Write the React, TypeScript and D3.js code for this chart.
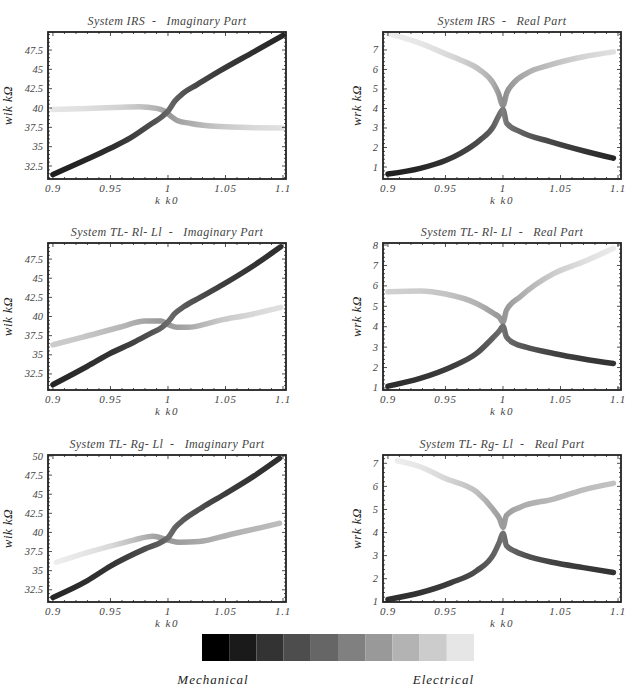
import React from 'react';
import * as d3 from 'd3';

// [k/k0, w, gray level]
const irsImagMech = [[0.9,31.4,0.12],[0.93,33.4,0.15],[0.95,34.8,0.18],[0.967,36.1,0.24],[0.985,37.9,0.3],[0.995,38.9,0.36],[1.0,39.6,0.4],[1.006,40.9,0.37],[1.013,41.9,0.33],[1.025,43.0,0.28],[1.045,44.8,0.23],[1.075,47.3,0.18],[1.1,49.4,0.15]];
const irsImagElec = [[0.9,39.8,0.9],[0.93,39.95,0.87],[0.96,40.1,0.82],[0.975,40.15,0.77],[0.99,39.95,0.7],[0.997,39.6,0.64],[1.002,39.0,0.6],[1.008,38.4,0.63],[1.02,38.0,0.68],[1.045,37.6,0.78],[1.075,37.45,0.85],[1.1,37.4,0.88]];
const irsRealMech = [[0.9,0.64,0.12],[0.928,0.93,0.15],[0.95,1.33,0.2],[0.963,1.7,0.24],[0.98,2.38,0.3],[0.9916,3.07,0.38],[0.996,3.58,0.44],[1.0,3.95,0.5],[1.0032,3.24,0.45],[1.0148,2.81,0.38],[1.041,2.3,0.28],[1.073,1.78,0.2],[1.096,1.45,0.15]];
const irsRealElec = [[0.9,7.85,0.93],[0.93,7.3,0.9],[0.95,6.8,0.86],[0.963,6.49,0.82],[0.98,5.97,0.75],[0.9916,5.29,0.67],[0.996,4.78,0.6],[1.0,4.15,0.55],[1.0032,4.78,0.58],[1.009,5.29,0.62],[1.0206,5.8,0.68],[1.041,6.23,0.75],[1.07,6.65,0.83],[1.096,6.9,0.88]];

const tlrlImagMech = [[0.9,31.1,0.15],[0.93,33.5,0.18],[0.95,35.2,0.2],[0.97,36.6,0.26],[0.985,37.8,0.32],[0.995,38.6,0.38],[1.0,39.3,0.42],[1.006,40.4,0.39],[1.014,41.3,0.35],[1.028,42.5,0.3],[1.048,44.2,0.24],[1.075,46.7,0.2],[1.098,49.1,0.18]];
const tlrlImagElec = [[0.9,36.3,0.8],[0.926,37.3,0.78],[0.958,38.6,0.72],[0.98,39.4,0.65],[0.994,39.4,0.6],[1.001,38.9,0.6],[1.008,38.6,0.62],[1.018,38.6,0.66],[1.03,38.9,0.72],[1.045,39.5,0.78],[1.07,40.2,0.84],[1.098,41.2,0.88]];
const tlrlRealMech = [[0.9,1.09,0.18],[0.928,1.47,0.2],[0.955,2.03,0.24],[0.977,2.69,0.3],[0.992,3.5,0.38],[0.997,3.8,0.42],[1.0,4.02,0.45],[1.003,3.5,0.42],[1.01,3.18,0.38],[1.02,3.0,0.33],[1.044,2.69,0.26],[1.07,2.42,0.22],[1.096,2.2,0.2]];
const tlrlRealElec = [[0.9,5.71,0.82],[0.928,5.75,0.8],[0.95,5.6,0.77],[0.977,5.14,0.7],[0.992,4.65,0.62],[0.997,4.45,0.6],[1.0,4.22,0.58],[1.003,4.8,0.6],[1.015,5.47,0.68],[1.044,6.6,0.8],[1.07,7.18,0.87],[1.096,7.84,0.92]];

const tlrgImagMech = [[0.9,31.5,0.15],[0.93,33.7,0.18],[0.95,35.6,0.2],[0.98,37.85,0.3],[0.995,38.8,0.38],[1.0,39.3,0.42],[1.006,40.6,0.39],[1.014,41.7,0.35],[1.028,43.1,0.3],[1.048,44.9,0.24],[1.075,47.4,0.2],[1.097,49.7,0.18]];
const tlrgImagElec = [[0.903,36.1,0.93],[0.926,37.2,0.9],[0.95,38.2,0.85],[0.97,39.0,0.75],[0.987,39.5,0.65],[1.0,39.0,0.6],[1.01,38.7,0.62],[1.027,38.8,0.66],[1.056,39.8,0.7],[1.08,40.6,0.72],[1.097,41.2,0.74]];
const tlrgRealMech = [[0.9,1.1,0.18],[0.928,1.39,0.2],[0.955,1.83,0.24],[0.977,2.34,0.3],[0.992,3.07,0.38],[0.997,3.6,0.42],[1.0,3.97,0.45],[1.003,3.43,0.42],[1.01,3.2,0.38],[1.02,3.0,0.32],[1.044,2.7,0.26],[1.07,2.48,0.22],[1.096,2.27,0.2]];
const tlrgRealElec = [[0.908,7.11,0.93],[0.928,6.85,0.9],[0.95,6.34,0.84],[0.977,5.76,0.75],[0.992,4.96,0.65],[0.997,4.6,0.62],[1.0,4.22,0.6],[1.003,4.74,0.62],[1.015,5.1,0.68],[1.044,5.45,0.72],[1.07,5.85,0.74],[1.096,6.13,0.76]];

const xTicks = [0.9, 0.95, 1, 1.05, 1.1];
const imagTicks = [32.5, 35, 37.5, 40, 42.5, 45, 47.5];
const imagTicks5 = [32.5, 35, 37.5, 40, 42.5, 45, 47.5, 50];
const realTicks7 = [1, 2, 3, 4, 5, 6, 7];
const realTicks8 = [1, 2, 3, 4, 5, 6, 7, 8];
const legendShades = [0, 0.1, 0.2, 0.3, 0.4, 0.5, 0.6, 0.7, 0.8, 0.9];

const gray = (s: number) => d3.interpolateRgb('#000', '#fff')(s);
const serif = { fontFamily: "'Liberation Serif', 'DejaVu Serif', serif", fontStyle: 'italic' as const };
const fmt = d3.format('~g');

const panels = [
  { id: 'p1', title: 'System IRS  -   Imaginary Part', ylab: 'wik kΩ', lx: -36, x0: 48, y0: 32, yd: [30.82, 49.83], yt: imagTicks, minor: 0.5, curves: [irsImagElec, irsImagMech] },
  { id: 'p2', title: 'System IRS  -   Real Part', ylab: 'wrk kΩ', lx: -22, x0: 383, y0: 32, yd: [0.385, 7.92], yt: realTicks7, minor: 0.2, curves: [irsRealElec, irsRealMech] },
  { id: 'p3', title: 'System TL- Rl- Ll  -   Imaginary Part', ylab: 'wik kΩ', lx: -36, x0: 48, y0: 243, yd: [30.4, 49.6], yt: imagTicks, minor: 0.5, curves: [tlrlImagElec, tlrlImagMech] },
  { id: 'p4', title: 'System TL- Rl- Ll  -   Real Part', ylab: 'wrk kΩ', lx: -22, x0: 383, y0: 243, yd: [0.9, 8.1], yt: realTicks8, minor: 0.2, curves: [tlrlRealElec, tlrlRealMech] },
  { id: 'p5', title: 'System TL- Rg- Ll  -   Imaginary Part', ylab: 'wik kΩ', lx: -36, x0: 48, y0: 455, yd: [30.9, 50.13], yt: imagTicks5, minor: 0.5, curves: [tlrgImagElec, tlrgImagMech] },
  { id: 'p6', title: 'System TL- Rg- Ll  -   Real Part', ylab: 'wrk kΩ', lx: -22, x0: 383, y0: 455, yd: [0.99, 7.36], yt: realTicks7, minor: 0.2, curves: [tlrgRealElec, tlrgRealMech] },
];

const W = 238, H = 147;

function Panel({ p }: { p: any }) {
  const x = d3.scaleLinear().domain([0.8957, 1.1026]).range([0, W]);
  const y = d3.scaleLinear().domain(p.yd).range([H, 0]);
  const line = d3.line<number[]>().x(d => x(d[0])).y(d => y(d[1])).curve(d3.curveMonotoneX);
  const xMinor = d3.range(0.9, 1.1001, 0.01);
  const yMinor = d3.range(Math.ceil(p.yd[0] / p.minor) * p.minor, p.yd[1], p.minor);
  return (
    <g transform={`translate(${p.x0},${p.y0})`}>
      <text x={W / 2} y={-7} textAnchor="middle" fontSize={12} letterSpacing={0.4} fill="#444" style={{ ...serif, whiteSpace: 'pre' }}>{p.title}</text>
      <defs>
        {p.curves.map((c: number[][], ci: number) => (
          <linearGradient key={ci} id={`${p.id}-g${ci}`} gradientUnits="userSpaceOnUse" x1={0} y1={0} x2={W} y2={0}>
            {c.map((d, i) => <stop key={i} offset={x(d[0]) / W} stopColor={gray(d[2])} />)}
          </linearGradient>
        ))}
        <clipPath id={`${p.id}-clip`}><rect x={0} y={0} width={W} height={H} /></clipPath>
      </defs>
      <g clipPath={`url(#${p.id}-clip)`}>
        {p.curves.map((c: number[][], ci: number) => (
          <path key={ci} d={line(c) as string} fill="none" stroke={`url(#${p.id}-g${ci})`} strokeWidth={5.5} strokeLinecap="round" strokeLinejoin="round" />
        ))}
      </g>
      {xMinor.map((t, i) => {
        const big = Math.abs(t * 20 - Math.round(t * 20)) < 1e-6;
        const l = big ? 4 : 2;
        return <g key={'x' + i} stroke="#222" strokeWidth={0.8}>
          <line x1={x(t)} x2={x(t)} y1={H} y2={H - l} />
          <line x1={x(t)} x2={x(t)} y1={0} y2={l} />
        </g>;
      })}
      {yMinor.map((t, i) => {
        const big = p.yt.some((v: number) => Math.abs(v - t) < 1e-6);
        const l = big ? 4 : 2;
        return <g key={'y' + i} stroke="#222" strokeWidth={0.8}>
          <line x1={0} x2={l} y1={y(t)} y2={y(t)} />
          <line x1={W} x2={W - l} y1={y(t)} y2={y(t)} />
        </g>;
      })}
      <rect x={0} y={0} width={W} height={H} fill="none" stroke="#222" strokeWidth={1.8} />
      {xTicks.map(t => (
        <text key={t} x={x(t)} y={H + 13} textAnchor="middle" fontSize={11} letterSpacing={0.8} fill="#444" style={serif}>{fmt(t)}</text>
      ))}
      {p.yt.map((t: number) => (
        <text key={t} x={-5} y={y(t) + 3.5} textAnchor="end" fontSize={10.5} fill="#444" style={serif}>{fmt(t)}</text>
      ))}
      <text x={W / 2} y={H + 25} textAnchor="middle" fontSize={11} letterSpacing={1.5} fill="#444" style={{ ...serif, whiteSpace: 'pre' }}>k k0</text>
      <text transform={`translate(${p.lx},${H / 2}) rotate(-90)`} textAnchor="middle" fontSize={13} letterSpacing={0.5} fill="#222" style={serif}>{p.ylab}</text>
    </g>
  );
}

export default function App() {
  const lx = d3.scaleBand<number>().domain(d3.range(legendShades.length)).range([202, 474]);
  return (
    <svg width={628} height={690} style={{ position: 'absolute', left: 0, top: 0, background: '#fff' }}>
      {panels.map(p => <Panel key={p.id} p={p} />)}
      {legendShades.map((s, i) => (
        <rect key={i} x={lx(i)} y={634} width={lx.bandwidth()} height={27} fill={gray(s)} />
      ))}
      <text x={213} y={684} textAnchor="middle" fontSize={13} fill="#222" letterSpacing={1} style={serif}>Mechanical</text>
      <text x={474} y={684} textAnchor="end" fontSize={13} fill="#222" letterSpacing={1} style={serif}>Electrical</text>
    </svg>
  );
}
